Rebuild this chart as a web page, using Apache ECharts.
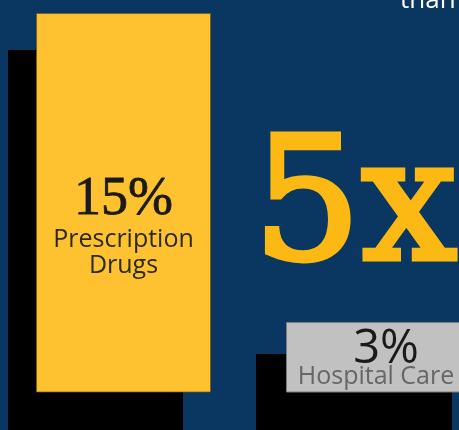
<!DOCTYPE html>
<html>
<head>
<meta charset="utf-8">
<script src="https://cdn.jsdelivr.net/npm/echarts@6/dist/echarts.min.js"></script>
<style>
html,body{margin:0;padding:0;background:#0a3662;}
#c{width:459px;height:430px;}
</style>
</head>
<body>
<div id="c"></div>
<script>
// ---- data ----
const categories = ['Prescription Drugs', 'Hospital Care'];
const shares = [15, 3];
const shareLabels = ['15%', '3%'];
const nameLines = [['Prescription', 'Drugs'], ['Hospital Care']];
const multiplier = '5x';
const headline = 'than';

// ---- styles ----
const NAVY = '#0a3662';
const YELLOW = '#fec231';
const GRAY = '#c1c1c1';
const GOLD = '#fdb913';

const chart = echarts.init(document.getElementById('c'), null, {renderer: 'canvas'});

function only(i) { return shares.map((v, j) => (j === i ? v : '-')); }

const yellowLabel = {
  show: true,
  position: [87.5, 160.5],
  align: 'center',
  verticalAlign: 'top',
  formatter: () => '{v|' + shareLabels[0] + '}\n' + nameLines[0].map(s => '{t|' + s + '}').join('\n'),
  rich: {
    v: {fontFamily: '"Liberation Serif"', fontSize: 54, lineHeight: 53, color: '#1a1a1a', align: 'center',
        textBorderColor: '#1a1a1a', textBorderWidth: 0.8},
    t: {fontFamily: '"Open Sans"', fontSize: 25, lineHeight: 26, color: '#2a2a1e', align: 'center'}
  }
};
const grayLabel = {
  show: true,
  position: [100, 13],
  align: 'center',
  verticalAlign: 'top',
  formatter: () => '{v|' + shareLabels[1] + '}\n' + nameLines[1].map(s => '{t|' + s + '}').join('\n'),
  rich: {
    v: {fontFamily: '"Open Sans"', fontSize: 47, lineHeight: 30, color: '#1a1a1a', align: 'center'},
    t: {fontFamily: '"Open Sans"', fontSize: 25, lineHeight: 24, color: '#666666', align: 'center', padding: [0, 20, 0, 0]}
  }
};

const option = {
  backgroundColor: NAVY,
  animation: false,
  grid: [
    {left: 9, width: 500, top: 13, bottom: 38, outerBoundsMode: 'none'},
    {left: -18, width: 496, top: 50, bottom: 0, outerBoundsMode: 'none'}
  ],
  xAxis: [
    {type: 'category', data: categories, gridIndex: 0, show: false},
    {type: 'category', data: categories, gridIndex: 1, show: false}
  ],
  yAxis: [
    {type: 'value', gridIndex: 0, min: 0.28, max: 15, show: false},
    {type: 'value', gridIndex: 1, min: 0, max: 15, show: false}
  ],
  series: [
    {type: 'bar', xAxisIndex: 1, yAxisIndex: 1, data: only(0), barWidth: 175, barGap: '-100%', z: 1,
     itemStyle: {color: '#000'}, silent: true},
    {type: 'bar', xAxisIndex: 1, yAxisIndex: 1, data: only(1), barWidth: 196, barGap: '-100%', z: 1,
     itemStyle: {color: '#000'}, silent: true},
    {type: 'bar', xAxisIndex: 0, yAxisIndex: 0, data: only(0), barWidth: 175, barGap: '-100%', z: 3,
     itemStyle: {color: YELLOW, borderColor: 'rgba(110,85,30,0.7)', borderWidth: 1}, label: yellowLabel},
    {type: 'bar', xAxisIndex: 0, yAxisIndex: 0, data: only(1), barWidth: 196, barGap: '-100%', z: 3,
     itemStyle: {color: GRAY, borderColor: '#7d7d7d', borderWidth: 1}, label: grayLabel}
  ],
  graphic: [
    {type: 'text', x: 253, y: 215, z: 5,
     style: {text: multiplier, font: '170px "DejaVu Serif"', fill: GOLD, stroke: GOLD, lineWidth: 5,
             textAlign: 'left', textVerticalAlign: 'middle'}},
    {type: 'text', x: 400, y: 1, z: 5,
     style: {text: headline, font: '26px "Open Sans"', fill: '#ffffff', textAlign: 'left', textVerticalAlign: 'middle'}}
  ]
};
chart.setOption(option);
</script>
</body>
</html>
